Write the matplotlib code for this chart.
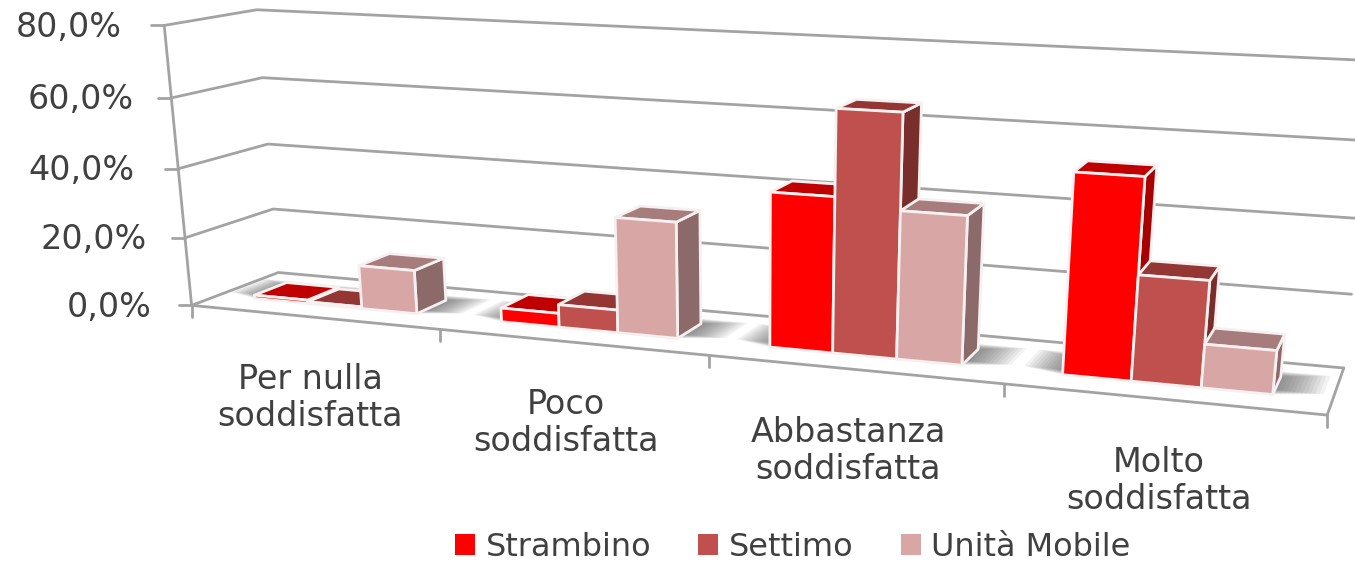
import numpy as np
import matplotlib
matplotlib.use("Agg")
import matplotlib.pyplot as plt
from matplotlib.patches import Polygon, Patch

categories = ["Per nulla\nsoddisfatta", "Poco\nsoddisfatta", "Abbastanza\nsoddisfatta", "Molto\nsoddisfatta"]
series_names = ["Strambino", "Settimo", "Unità Mobile"]
strambino = [1.0, 4.0, 42.5, 53.0]
settimo = [0.5, 6.5, 65.5, 28.0]
unita = [12.7, 32.5, 40.0, 11.5]
y_ticks = [0, 20, 40, 60, 80]
y_labels = ["0,0%", "20,0%", "40,0%", "60,0%", "80,0%"]
label_right = [152, 147, 135, 134, 122]

face = ["#FF0000", "#C0504D", "#D9A6A6"]
top = ["#C00000", "#933634", "#A67C7C"]
side = ["#A80000", "#7A2E2C", "#8C6A6A"]
GRID = "#A3A3A3"
TXT = "#404040"

# camera fitted from the corners of the chart box (X categories, Y depth, Z value)
world = np.array([[0,0,0],[0,0,80],[0,1,0],[0,1,80],[4,0,0],[4,1,0],[4,1,80]], float)
pix = np.array([[192,305],[164,25],[278,273],[257,10],[1327,416],[1344,367],[1376,61]], float)
A = []
b = []
for (X, Y, Z), (u, v) in zip(world, pix):
    A.append([X, Y, Z, 1, 0, 0, 0, 0, -u*X, -u*Y, -u*Z]); b.append(u)
    A.append([0, 0, 0, 0, X, Y, Z, 1, -v*X, -v*Y, -v*Z]); b.append(v)
m = np.linalg.lstsq(np.array(A), np.array(b), rcond=None)[0]
P = np.append(m, 1).reshape(3, 4)

def pr(X, Y, Z):
    h = P @ np.array([X, Y, Z, 1.0])
    return (h[0]/h[2], h[1]/h[2])

fig = plt.figure(figsize=(13.55, 5.66), dpi=100)
ax = fig.add_axes([0, 0, 1, 1])
ax.set_xlim(0, 1355); ax.set_ylim(566, 0); ax.axis("off")

def line(pts, lw=2.0, z=1):
    ax.plot([p[0] for p in pts], [p[1] for p in pts], color=GRID, lw=lw, zorder=z, solid_capstyle="round")

# walls and floor
for t in y_ticks:
    line([pr(0,0,t), pr(0,1,t), pr(4,1,t)])
    a = pr(0,0,t)
    line([(a[0]-13, a[1]), a])
line([pr(0,0,0), pr(0,0,80)])
line([pr(0,0,0), pr(4,0,0), pr(4,1,0)])
for i in range(5):
    a = pr(i,0,0)
    line([a, (a[0], a[1]+12)])
for t, s, r in zip(y_ticks, y_labels, label_right):
    a = pr(0,0,t)
    ax.text(r, a[1]+2, s, ha="right", va="center", fontsize=24, color=TXT, family="DejaVu Sans")

Y0, Y1 = 0.30, 0.68
M = 0.152
W = 0.222
data = [strambino, settimo, unita]

def poly(pts, color, ec="#F6F0F0", lw=2.0, z=3):
    ax.add_patch(Polygon(pts, closed=True, fc=color, ec=ec, lw=lw, zorder=z, joinstyle="round"))

N = 12
for g in range(4):
    x0 = g + M
    x1 = x0 + 3*W
    # soft floor shadow around the bar footprint
    for k in range(N):
        f = (N - k)/N
        ya = Y0 + 0.10*f
        yb = Y1 + 0.12*f
        ax.add_patch(Polygon([pr(x0-0.14*f,ya,0), pr(x1+0.15*f,ya,0), pr(x1+0.15*f,yb,0), pr(x0-0.14*f,yb,0)],
                             closed=True, fc="#444444", ec="none", alpha=0.065, zorder=2))
    for s in range(3):
        v = data[s][g]
        a = x0 + s*W
        c = a + W
        poly([pr(c,Y0,0), pr(c,Y1,0), pr(c,Y1,v), pr(c,Y0,v)], side[s])
        poly([pr(a,Y0,v), pr(c,Y0,v), pr(c,Y1,v), pr(a,Y1,v)], top[s])
        poly([pr(a,Y0,0), pr(c,Y0,0), pr(c,Y0,v), pr(a,Y0,v)], face[s])

# category labels
lab_x = [310, 566, 848, 1159]
lab_y = [398, 423, 451, 481]
for c, lx, ly in zip(categories, lab_x, lab_y):
    ax.text(lx, ly, c, ha="center", va="center", fontsize=24, color=TXT, family="DejaVu Sans", linespacing=1.15)

handles = [Patch(fc=f, ec="none", label=n) for f, n in zip(face, series_names)]
ax.legend(handles=handles, loc="center", bbox_to_anchor=(793/1355, 1-547/566), ncol=3, frameon=False,
          labelcolor=TXT, handlelength=0.62, handleheight=0.62, handletextpad=0.34, columnspacing=1.47,
          borderpad=0, prop={"family": "DejaVu Sans", "size": 23})

fig.savefig("out.png", dpi=100)
